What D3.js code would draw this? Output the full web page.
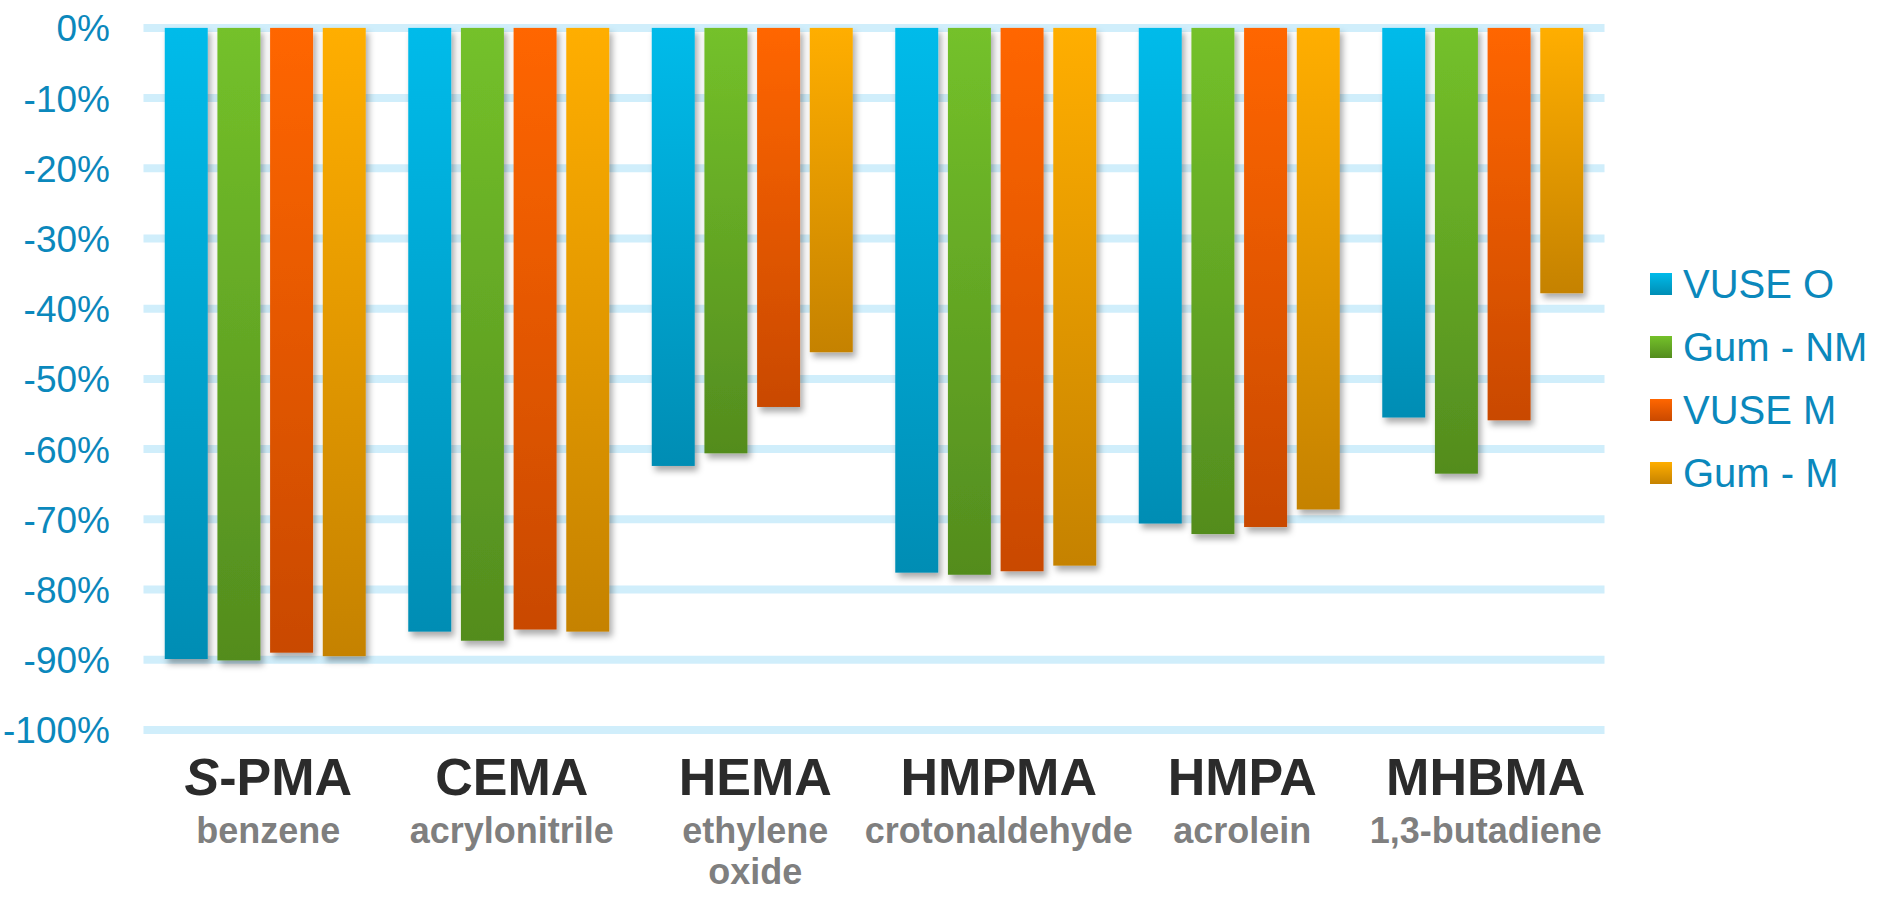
<!DOCTYPE html>
<html>
<head>
<meta charset="utf-8">
<script src="https://cdn.jsdelivr.net/npm/d3@7/dist/d3.min.js"></script>
<style>
  html, body { margin: 0; padding: 0; background: #ffffff; }
  svg { display: block; font-family: "Liberation Sans", Arial, sans-serif; }
</style>
</head>
<body>
<svg id="chart" width="1882" height="898"></svg>
<script>
// Biomarker reductions (% change) per product
const categories = ["S-PMA", "CEMA", "HEMA", "HMPMA", "HMPA", "MHBMA"];
const subLabels = [["benzene"], ["acrylonitrile"], ["ethylene", "oxide"], ["crotonaldehyde"], ["acrolein"], ["1,3-butadiene"]];
const seriesNames = ["VUSE O", "Gum - NM", "VUSE M", "Gum - M"];
const vuseO = [-89.9, -86.0, -62.4, -77.6, -70.6, -55.5];
const gumNM = [-90.1, -87.3, -60.6, -77.9, -72.1, -63.5];
const vuseM = [-89.0, -85.7, -54.0, -77.4, -71.1, -55.9];
const gumM  = [-89.5, -86.0, -46.2, -76.6, -68.6, -37.8];
const yTicks = [0, -10, -20, -30, -40, -50, -60, -70, -80, -90, -100];

const seriesValues = [vuseO, gumNM, vuseM, gumM];
const gradStops = [
  ["#00bbea", "#008db4"],
  ["#74c12a", "#538c1e"],
  ["#ff6600", "#c94900"],
  ["#ffae00", "#c58200"]
];

const svg = d3.select("#chart");
const defs = svg.append("defs");

// Vertical gradient per series
gradStops.forEach((c, i) => {
  const g = defs.append("linearGradient")
    .attr("id", "grad" + i).attr("x1", 0).attr("y1", 0).attr("x2", 0).attr("y2", 1);
  g.append("stop").attr("offset", "0%").attr("stop-color", c[0]);
  g.append("stop").attr("offset", "100%").attr("stop-color", c[1]);
});

// Soft drop shadow under bars
const f = defs.append("filter").attr("id", "shadow")
  .attr("x", "-20%").attr("y", "-5%").attr("width", "150%").attr("height", "115%");
f.append("feDropShadow").attr("dx", 3).attr("dy", 5).attr("stdDeviation", 3)
  .attr("flood-color", "#000").attr("flood-opacity", 0.33);

const plotLeft = 143.5, plotRight = 1604.5;
const y = d3.scaleLinear().domain([0, -100]).range([27.9, 729.9]);
const x0 = d3.scaleBand().domain(categories).range([plotLeft, plotRight]).padding(0);
const bw = x0.bandwidth();
const x1 = d3.scaleBand().domain(seriesNames)
  .range([bw * 0.0873, bw * 0.9127]).paddingInner(0.184).paddingOuter(0);

// Gridlines
svg.append("g").selectAll("line").data(yTicks).join("line")
  .attr("x1", plotLeft).attr("x2", plotRight)
  .attr("y1", d => y(d)).attr("y2", d => y(d))
  .attr("stroke", "#d0eefb").attr("stroke-width", 8);

// Y axis labels
const yAxis = d3.axisLeft(y).tickValues(yTicks).tickFormat(d => d + "%").tickSize(0).tickPadding(0);
const yg = svg.append("g").attr("transform", "translate(110,0)").call(yAxis);
yg.select(".domain").remove();
yg.selectAll("text")
  .attr("fill", "#0b88bc").attr("font-size", 37)
  .attr("font-family", "'Liberation Sans', Arial, sans-serif")
  .attr("dy", "0.35em");

// Bars
const groups = svg.append("g").selectAll("g").data(categories).join("g")
  .attr("transform", d => `translate(${x0(d)},0)`);
groups.selectAll("rect")
  .data((d, ci) => seriesNames.map((s, si) => ({ s, si, v: seriesValues[si][ci] })))
  .join("rect")
  .attr("x", d => x1(d.s))
  .attr("width", x1.bandwidth())
  .attr("y", y(0))
  .attr("height", d => y(d.v) - y(0))
  .attr("fill", d => `url(#grad${d.si})`)
  .attr("filter", "url(#shadow)");

// Category labels
const labels = svg.append("g").selectAll("g").data(categories).join("g")
  .attr("transform", d => `translate(${x0(d) + bw / 2 + 3},0)`);
labels.each(function (d, i) {
  const g = d3.select(this);
  const t = g.append("text").attr("y", 795).attr("text-anchor", "middle")
    .attr("font-size", 52).attr("font-weight", "bold").attr("fill", "#2b2b2b");
  if (d.startsWith("S-")) {
    t.append("tspan").attr("font-style", "italic").text("S");
    t.append("tspan").text(d.slice(1));
  } else {
    t.text(d);
  }
  subLabels[i].forEach((line, li) => {
    g.append("text").attr("y", 843 + li * 41).attr("text-anchor", "middle")
      .attr("font-size", 36).attr("font-weight", "bold").attr("fill", "#7f7f7f")
      .text(line);
  });
});

// Legend
const legend = svg.append("g").attr("transform", "translate(1650,284)");
const li = legend.selectAll("g").data(seriesNames).join("g")
  .attr("transform", (d, i) => `translate(0,${i * 63})`);
li.append("rect").attr("x", 0).attr("y", -11).attr("width", 22).attr("height", 22)
  .attr("fill", (d, i) => `url(#grad${i})`);
li.append("text").attr("x", 33).attr("dy", "0.35em")
  .attr("font-size", 40).attr("fill", "#0b88bc").text(d => d);
</script>
</body>
</html>
